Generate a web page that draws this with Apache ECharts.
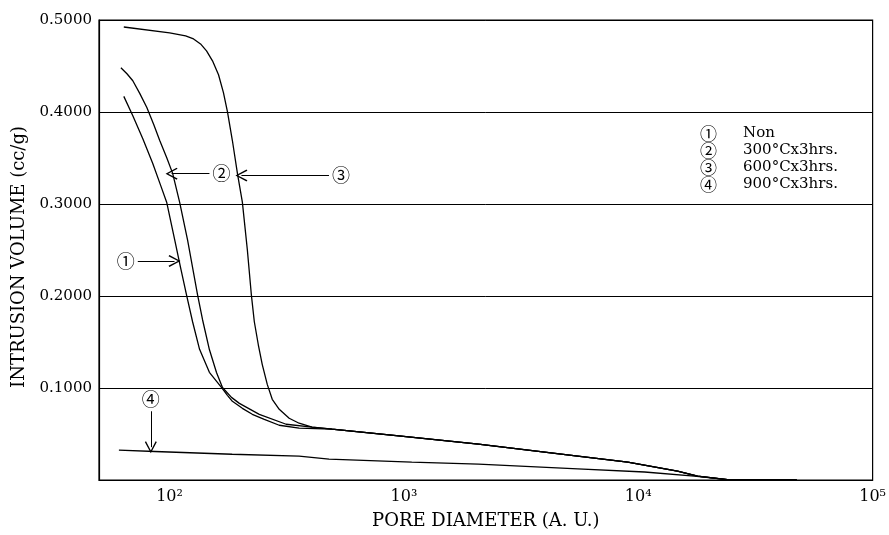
<!DOCTYPE html>
<html>
<head>
<meta charset="utf-8">
<script src="https://cdn.jsdelivr.net/npm/echarts@6/dist/echarts.min.js"></script>
<style>
html, body { margin: 0; padding: 0; background: #fff; }
#chart { width: 889px; height: 535px; }
</style>
</head>
<body>
<div id="chart"></div>
<script>
var
// ------------------------------------------------------------------
/* 数据 (pore diameter A.U. / intrusion volume cc/g) */
seriesNames = ['Non', '300°Cx3hrs.', '600°Cx3hrs.', '900°Cx3hrs.'],
circled = ['①', '②', '③', '④'],

// ① Non
diamNon = [63.8, 69.7, 76.9, 84.8, 91.7, 97.2, 105.2, 111.5, 118.2, 125.4, 134.3, 147.9, 166.5, 176.6, 185.4, 204.5, 225.5, 253.7, 293.8, 357.2, 493],
volNon = [0.417, 0.396, 0.371, 0.344, 0.320, 0.302, 0.261, 0.2305, 0.201, 0.172, 0.142, 0.117, 0.1006, 0.092, 0.0855, 0.0779, 0.0714, 0.066, 0.0595, 0.0563, 0.0552],
// ② 300°C
diam300 = [62.0, 65.8, 69.7, 74.7, 80.0, 85.6, 90.8, 97.2, 103.1, 110.4, 119.4, 131.7, 138.3, 147.9, 158.6, 168.2, 183.7, 198.6, 241.5, 314.5, 405.6, 493],
vol300 = [0.448, 0.4416, 0.434, 0.420, 0.4048, 0.3864, 0.369, 0.3506, 0.3333, 0.302, 0.2608, 0.2013, 0.1742, 0.1418, 0.1169, 0.1006, 0.0898, 0.0833, 0.0714, 0.0606, 0.0574, 0.0552],
// ③ 600°C
diam600 = [63.8, 100.1, 117.1, 126.6, 135.6, 143.8, 152.5, 161.8, 169.8, 176.6, 185.4, 194.8, 204.5, 214.8, 223.4, 230.0, 239.2, 248.7, 261.2, 274.3, 293.8, 323.9, 357.2, 405.6, 493],
vol600 = [0.4924, 0.486, 0.4827, 0.4794, 0.474, 0.4665, 0.4556, 0.4405, 0.421, 0.4004, 0.369, 0.3333, 0.302, 0.250, 0.2013, 0.172, 0.147, 0.1255, 0.1039, 0.0877, 0.0768, 0.0671, 0.0617, 0.0574, 0.0552],
// ①②③ common tail
tailDiam = [950, 2080, 5520, 9020, 14700, 17900, 24000, 47500],
tailVol = [0.048, 0.039, 0.026, 0.0195, 0.0097, 0.0043, 0.0005, 0],
// ④ 900°C
diam900 = [60.8, 86.5, 185, 357, 479, 1080, 2080, 5520, 10640, 17350, 24000, 40000],
vol900 = [0.0325, 0.031, 0.028, 0.026, 0.0227, 0.0195, 0.0173, 0.012, 0.0087, 0.0043, 0.0005, 0],

// 注释箭头 [起点diam, 起点vol, 终点diam, 终点vol]
arrows = [
	[73.2, 0.238, 105, 0.238],
	[148, 0.333, 102, 0.333],
	[479, 0.331, 202.6, 0.331],
	[83.2, 0.0747, 83.2, 0.0357]
],
yTicks = [0, 0.1, 0.2, 0.3, 0.4, 0.5],
xMin = 50,
xMax = 100000,

// ------------------------------------------------------------------
serifFont = '"DejaVu Serif", "Liberation Serif", serif',
circFont = '"Noto Sans CJK JP", "DejaVu Sans", sans-serif',
sup = { '2': '²', '3': '³', '4': '⁴', '5': '⁵' },
openArrow = 'path://M5,0 L10,10 L9,10.8 L5,2.4 L1,10.8 L0,10 Z',

pairs = function(d, v) {
	var out = [];
	for (var i = 0; i < d.length; i++) out.push([d[i], v[i]]);
	return out;
},

arrowLines = function(idx) {
	var a = arrows[idx];
	return {
		silent: true,
		symbol: ['none', openArrow],
		symbolSize: 12,
		animation: false,
		lineStyle: { color: '#000', width: 1, type: 'solid' },
		label: {
			show: true,
			position: 'start',
			distance: 3,
			formatter: circled[idx],
			fontFamily: circFont,
			fontSize: 18,
			color: '#000'
		},
		data: [[{ coord: [a[0], a[1]] }, { coord: [a[2], a[3]] }]]
	};
},

curves = [
	pairs(diamNon.concat(tailDiam), volNon.concat(tailVol)),
	pairs(diam300.concat(tailDiam), vol300.concat(tailVol)),
	pairs(diam600.concat(tailDiam), vol600.concat(tailVol)),
	pairs(diam900, vol900)
],

chart = echarts.init(document.getElementById('chart'));

var option = {
	animation: false,
	backgroundColor: '#fff',
	grid: {
		left: 99, right: 13, top: 20, bottom: 55,
		show: true, borderColor: '#000', borderWidth: 1.2
	},
	legend: {
		orient: 'vertical',
		left: 690,
		top: 120,
		icon: 'none',
		itemWidth: 0,
		itemHeight: 14,
		itemGap: 0,
		selectedMode: false,
		data: seriesNames,
		formatter: function(name) {
			return '{n|' + circled[seriesNames.indexOf(name)] + '}{t|' + name + '}';
		},
		textStyle: {
			rich: {
				n: { fontFamily: circFont, fontSize: 17, lineHeight: 18, color: '#000', width: 43 },
				t: { fontFamily: serifFont, fontSize: 15, lineHeight: 18, color: '#000' }
			}
		}
	},
	xAxis: {
		type: 'log',
		logBase: 10,
		min: xMin,
		max: xMax,
		name: 'PORE DIAMETER (A. U.)',
		nameLocation: 'middle',
		nameGap: 32,
		nameTextStyle: { fontFamily: serifFont, fontSize: 18, color: '#000' },
		axisLine: { lineStyle: { color: '#000', width: 1.2 } },
		axisTick: { show: false },
		splitLine: { show: false },
		axisLabel: {
			margin: 9,
			showMinLabel: false,
			fontFamily: serifFont,
			fontSize: 16,
			color: '#000',
			formatter: function(v) {
				var p = Math.log(v) / Math.LN10, r = Math.round(p);
				if (Math.abs(p - r) > 1e-6 || !sup[r]) return '';
				return '10' + sup[r];
			}
		}
	},
	yAxis: {
		type: 'value',
		min: yTicks[0],
		max: yTicks[yTicks.length - 1],
		interval: 0.1,
		name: 'INTRUSION VOLUME (cc/g)',
		nameLocation: 'middle',
		nameGap: 71,
		nameTextStyle: { fontFamily: serifFont, fontSize: 18, color: '#000', padding: [0, 14, 0, 0] },
		axisLine: { show: true, lineStyle: { color: '#000', width: 1.2 } },
		axisTick: { show: false },
		splitLine: { lineStyle: { color: '#000', width: 1 } },
		axisLabel: {
			margin: 7,
			fontFamily: serifFont,
			fontSize: 15,
			color: '#000',
			formatter: function(v) { return v === 0 ? '' : v.toFixed(4); }
		}
	},
	series: seriesNames.map(function(name, i) {
		return {
			name: name,
			type: 'line',
			data: curves[i],
			smooth: false,
			showSymbol: false,
			symbol: 'none',
			color: '#000',
			lineStyle: { color: '#000', width: 1.3 },
			markLine: arrowLines(i)
		};
	})
};

chart.setOption(option);
</script>
</body>
</html>
